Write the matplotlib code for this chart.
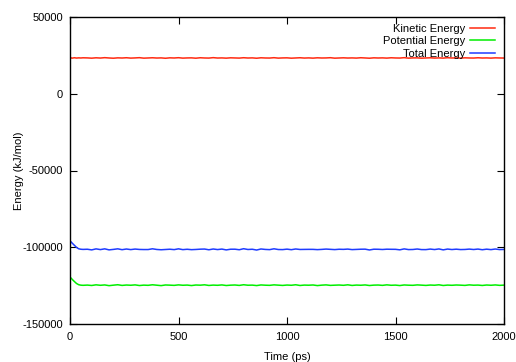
import numpy as np
import matplotlib
matplotlib.use('Agg')
import matplotlib.pyplot as plt

plt.rcParams['font.family'] = ['Liberation Sans', 'DejaVu Sans']
plt.rcParams['axes.unicode_minus'] = False

# time axis (ps): a few early frames, then every 20 ps
time_early = [0, 1, 5, 10, 20, 30, 40, 50, 60]
time_late = np.arange(80, 2001, 20)
time = np.concatenate([time_early, time_late])

kinetic = [0, 22800, 23400, 23200, 23450, 23250, 23380, 23300, 23420,
    23350, 23180, 23420, 23260, 23510, 23300, 23150, 23390, 23280, 23460,
    23220, 23340, 23500, 23190, 23310, 23440, 23270, 23360, 23120, 23400,
    23290, 23480, 23210, 23330, 23380, 23160, 23450, 23300, 23240, 23520,
    23270, 23350, 23190, 23410, 23320, 23230, 23470, 23280, 23370, 23140,
    23430, 23300, 23260, 23490, 23210, 23340, 23390, 23170, 23310, 23450,
    23250, 23360, 23200, 23420, 23290, 23330, 23480, 23180, 23300, 23410,
    23270, 23350, 23230, 23460, 23310, 23150, 23400, 23290, 23370, 23220,
    23440, 23310, 23260, 23500, 23200, 23340, 23380, 23170, 23320, 23430,
    23240, 23360, 23210, 23470, 23290, 23330, 23190, 23410, 23300, 23260,
    23450, 23280, 23350, 23220, 23390, 23310, 23260]

potential = [-165000, -119800, -120100, -120900, -122300, -123600, -124400, -124700, -124800,
    -124650, -124900, -124480, -124780, -124550, -125010, -124700, -124420, -124860, -124610,
    -124750, -124520, -124930, -124680, -124800, -124450, -124720, -124990, -124580, -124690,
    -124830, -124510, -124760, -124640, -124950, -124600, -124710, -124470, -124880, -124660,
    -124780, -124540, -124920, -124700, -124590, -124850, -124430, -124740, -124670, -124960,
    -124560, -124720, -124810, -124500, -124690, -124870, -124620, -124760, -124440, -124900,
    -124650, -124730, -124580, -124970, -124690, -124520, -124840, -124710, -124600, -124790,
    -124470, -124880, -124640, -124750, -124550, -124920, -124680, -124610, -124830, -124490,
    -124770, -124660, -124940, -124570, -124720, -124800, -124530, -124690, -124860, -124620,
    -124740, -124460, -124910, -124650, -124780, -124590, -124700, -124850, -124510, -124730,
    -124640, -124890, -124600, -124760, -124550, -124820, -124680]

total = [-165000, -96200, -96500, -97300, -98700, -100100, -101000, -101300, -101400,
    -101300, -101720, -101060, -101520, -101040, -101710, -101400, -101030, -101580, -101150,
    -101530, -101180, -101430, -101490, -101490, -101010, -101450, -101630, -101460, -101290,
    -101540, -101030, -101550, -101310, -101570, -101440, -101260, -101170, -101640, -101140,
    -101510, -101190, -101730, -101290, -101270, -101620, -100960, -101460, -101300, -101820,
    -101130, -101420, -101550, -101010, -101480, -101530, -101230, -101590, -101130, -101450,
    -101400, -101370, -101380, -101550, -101400, -101190, -101360, -101530, -101300, -101380,
    -101200, -101530, -101410, -101290, -101240, -101770, -101280, -101320, -101460, -101270,
    -101330, -101350, -101680, -101070, -101520, -101460, -101150, -101520, -101540, -101190,
    -101500, -101100, -101700, -101180, -101490, -101260, -101510, -101440, -101210, -101470,
    -101190, -101610, -101250, -101540, -101160, -101510, -101420]

fig = plt.figure(figsize=(5.16, 3.62), dpi=100)
ax = fig.add_axes([70/516, 38/362, 434/516, 307/362])

ax.plot(time, kinetic, color='#ff2a10', lw=1.1, label='Kinetic Energy')
ax.plot(time, potential, color='#00ee00', lw=1.1, label='Potential Energy')
ax.plot(time, total, color='#1f3cff', lw=1.1, label='Total Energy')

ax.set_xlim(0, 2000)
ax.set_ylim(-150000, 50000)
ax.set_xticks([0, 500, 1000, 1500, 2000])
ax.set_yticks([-150000, -100000, -50000, 0, 50000])
ax.tick_params(direction='in', top=True, right=True, length=5, width=0.8,
               labelsize=8)
ax.tick_params(axis='x', pad=6)
ax.tick_params(axis='y', pad=5)
for s in ax.spines.values():
    s.set_linewidth(1.0)

ax.set_xlabel('Time (ps)', fontsize=8, labelpad=7)
ax.set_ylabel('Energy (kJ/mol)', fontsize=8, labelpad=-1)

ax.legend(loc='upper right', bbox_to_anchor=(0.997, 1.003), frameon=False,
          markerfirst=False, fontsize=8, handlelength=2.2, handletextpad=0.5,
          labelspacing=0.22, borderaxespad=0.3)

fig.savefig('out.png', dpi=100)
